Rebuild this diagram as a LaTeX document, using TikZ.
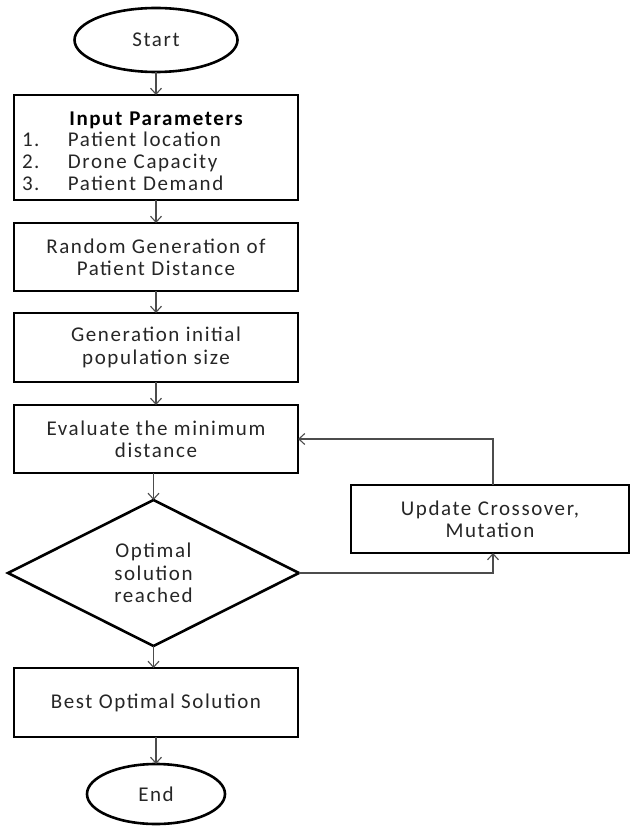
\documentclass[tikz,border=0pt]{standalone}
\usepackage{fontspec}
\setmainfont{Carlito}[LetterSpace=7.5]
\usetikzlibrary{shapes.geometric,arrows.meta}

\tikzset{
  every node/.style={font=\fontsize{21}{22.3}\selectfont, text=black!85, inner sep=0pt, outer sep=0pt},
  stepbox/.style={draw=black, line width=2.6pt, rectangle, minimum width=284pt, align=center},
  terminal/.style={draw=black, line width=2.6pt, ellipse, align=center},
  decision/.style={draw=black, line width=2.6pt, diamond, align=center},
  flow/.style={draw=black!70, line width=1.1pt, -{Straight Barb[length=6pt,width=11pt]}}
}

\begin{document}
\begin{tikzpicture}[x=1pt,y=-1pt]
  \useasboundingbox (0,0) rectangle (630,826);

  % main column
  \node[terminal, minimum width=163pt, minimum height=64pt] (start) at (156,40) {Start};
  \node[stepbox, minimum height=105pt] (inp) at (156,147.5) {};
  \node[text width=284pt, align=left, font=\fontsize{21}{21.8}\selectfont] (inptext) at (156,151)
    {\makebox[\linewidth][c]{\textcolor{black}{\bfseries Input Parameters}}\\
     \hspace*{8pt}\makebox[46pt][l]{1.}Patient location\\
     \hspace*{8pt}\makebox[46pt][l]{2.}Drone Capacity\\
     \hspace*{8pt}\makebox[46pt][l]{3.}Patient Demand};
  \node[stepbox, minimum height=68pt] (rnd) at (156,257) {Random Generation of\\Patient Distance};
  \node[stepbox, minimum height=69pt] (gen) at (156,347.5) {Generation initial\\population size};
  \node[stepbox, minimum height=68pt] (eval) at (156,439) {Evaluate the minimum\\distance};
  \node[decision, minimum width=291pt, minimum height=146pt] (dec) at (153.5,573) {Optimal\\solution\\reached};
  \node[stepbox, minimum height=69pt] (best) at (156,702.5) {Best Optimal Solution};
  \node[terminal, minimum width=138pt, minimum height=60pt] (end) at (156,794) {End};

  % loop box
  \node[stepbox, minimum width=278pt, minimum height=68pt] (upd) at (490,519) {Update Crossover,\\Mutation};

  % connectors
  \draw[flow] (start.south) -- (start.south |- inp.north);
  \draw[flow] (inp.south) -- (rnd.north);
  \draw[flow] (rnd.south) -- (gen.north);
  \draw[flow] (gen.south) -- (eval.north);
  \draw[flow] (dec.north |- eval.south) -- (dec.north);
  \draw[flow] (dec.south) -- (dec.south |- best.north);
  \draw[flow] (best.south) -- (best.south |- end.north);
  \draw[flow] (dec.east) -| ([xshift=3pt]upd.south);
  \draw[flow] ([xshift=3pt]upd.north) |- (eval.east);
\end{tikzpicture}
\end{document}
